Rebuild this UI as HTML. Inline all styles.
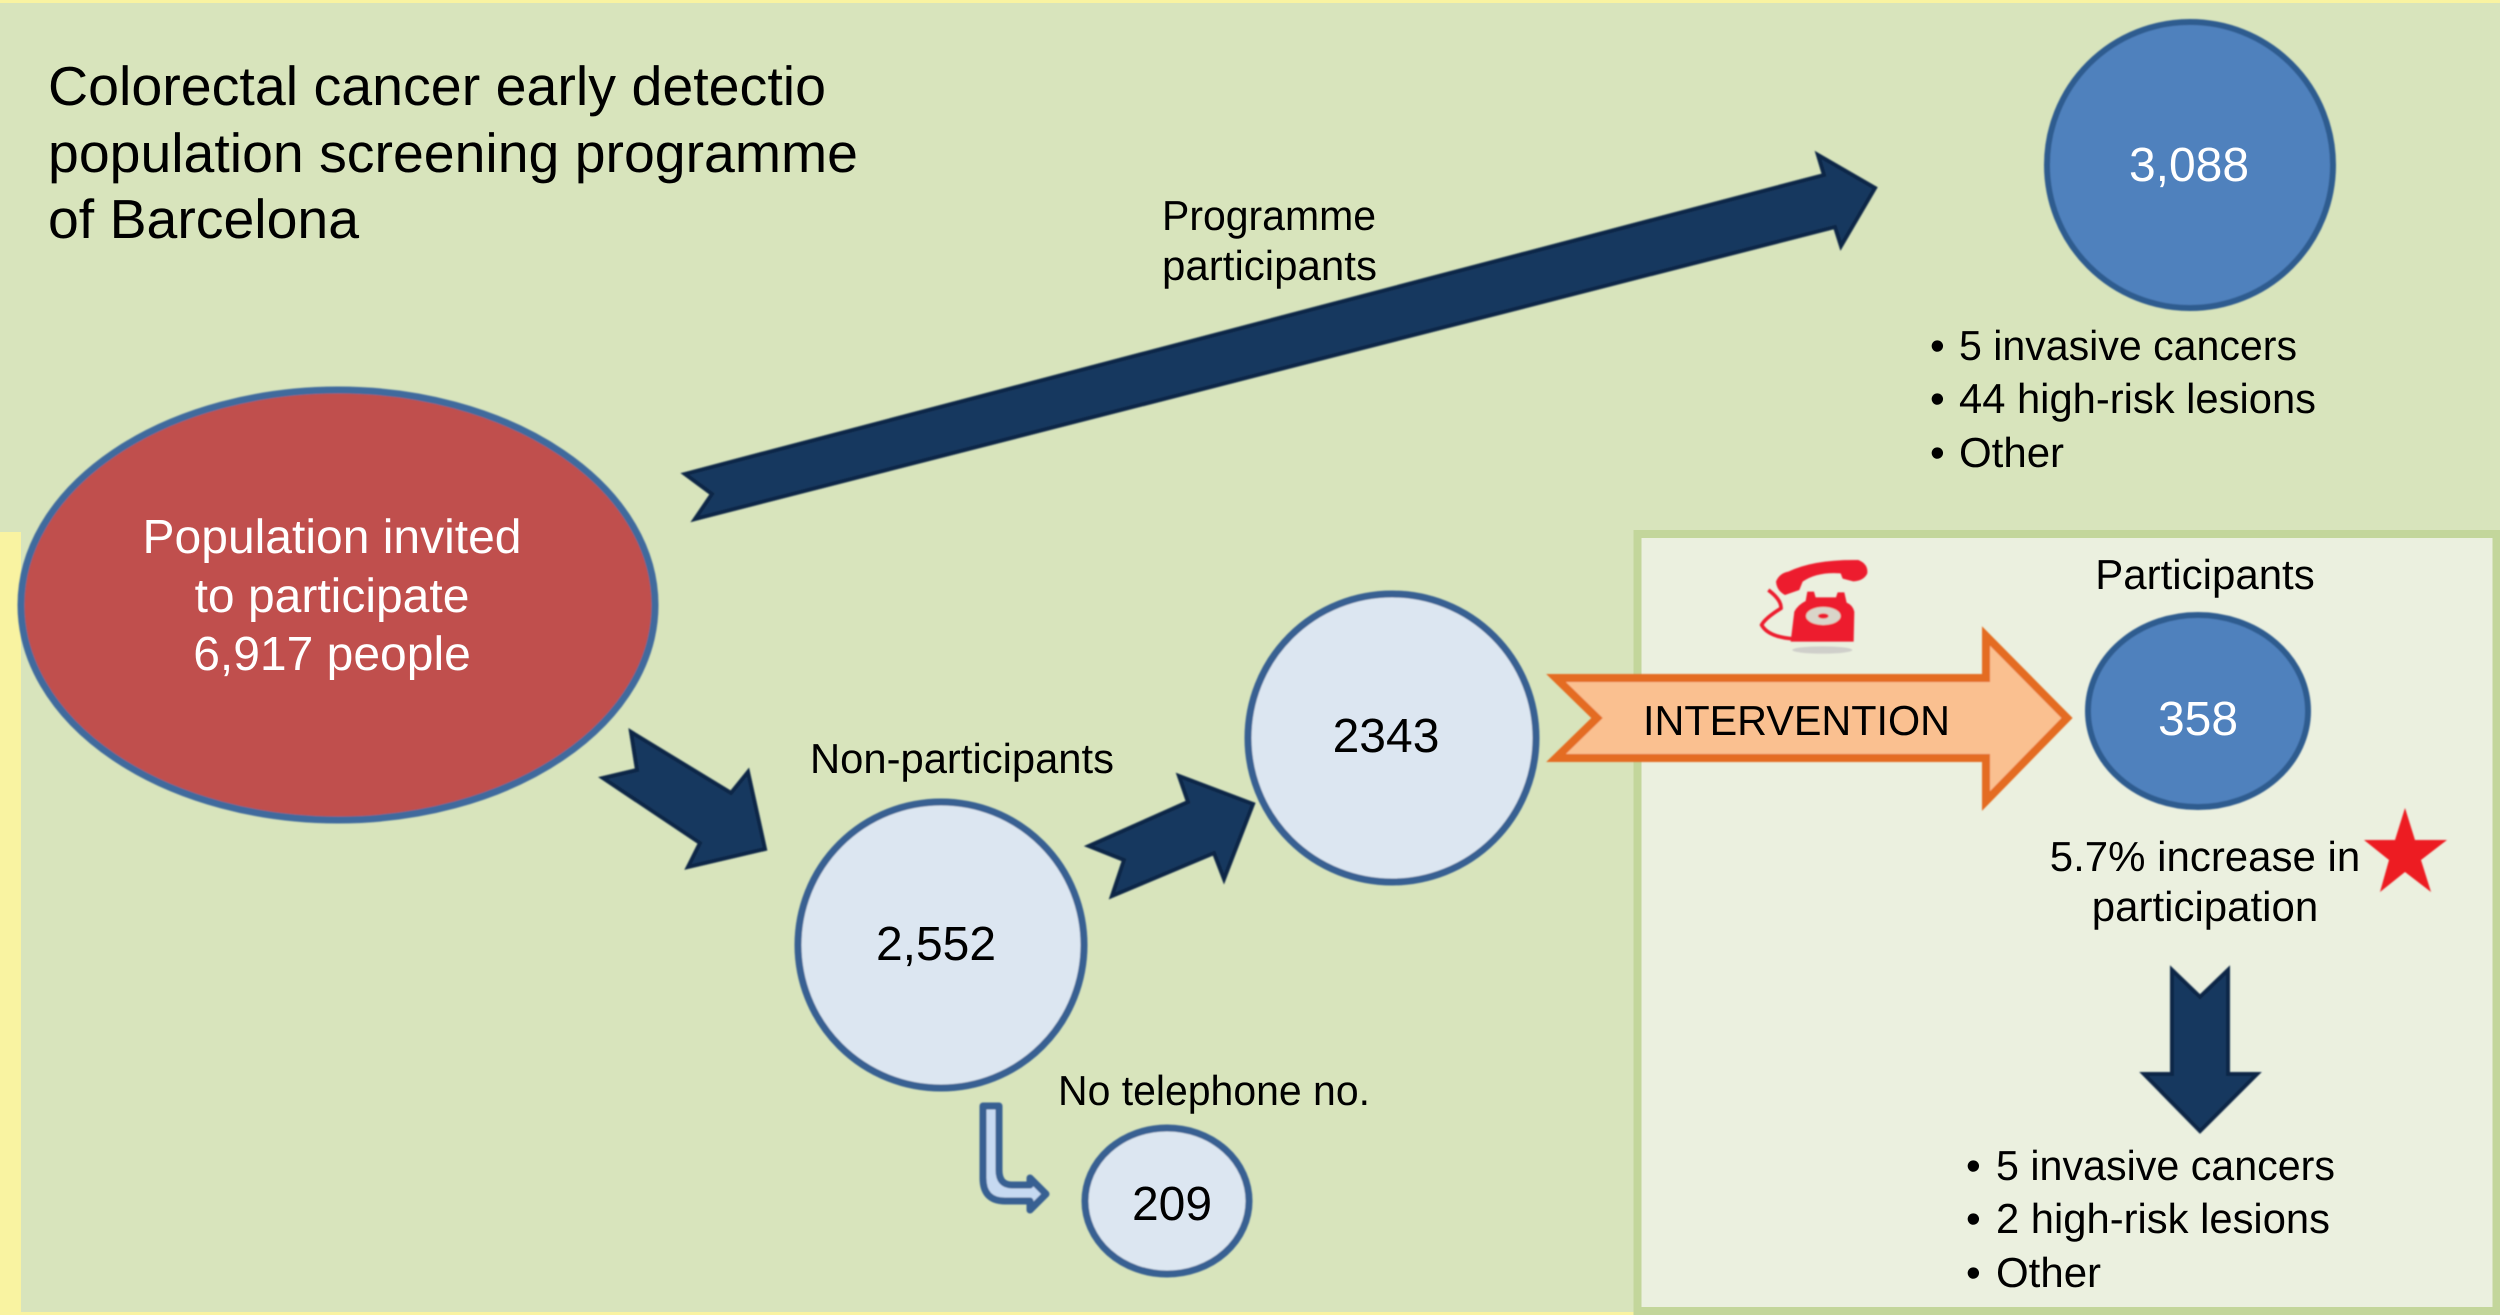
<!DOCTYPE html>
<html lang="en">
<head>
<meta charset="utf-8">
<title>Colorectal cancer early detection population screening programme of Barcelona</title>
<style>
html,body{margin:0;padding:0;background:#f9f3a1;width:2500px;height:1315px;overflow:hidden}
svg{display:block}
text{font-family:"Liberation Sans",Arial,sans-serif;fill:#000;text-rendering:geometricPrecision}
.m{text-anchor:middle}
.w{fill:#fff}
.dark{fill:#17375e;stroke:#0e2747;stroke-width:4;stroke-linejoin:miter}
.light{fill:#dce6f1;stroke:#376092;stroke-width:7}
.blue{fill:#4f81bd;stroke:#2f5c8f;stroke-width:6}
</style>
</head>
<body>
<svg width="2500" height="1315" viewBox="0 0 2500 1315" xmlns="http://www.w3.org/2000/svg">
<defs><filter id="s" x="-5%" y="-5%" width="110%" height="110%"><feGaussianBlur stdDeviation="0.8"/></filter></defs>

<!-- background -->
<rect width="2500" height="1315" fill="#f9f3a1"/>
<rect x="0" y="3" width="2500" height="529" fill="#d8e4bc"/>
<rect x="21" y="532" width="1620" height="780" fill="#d8e4bc"/>
<rect x="1637.5" y="534" width="859" height="777" fill="#ebf0df" stroke="#c3d69b" stroke-width="8"/>

<!-- nodes -->
<g filter="url(#s)">
<ellipse cx="338" cy="605" rx="317" ry="215" fill="#c0504d" stroke="#3f6b9d" stroke-width="7"/>
<circle cx="2190" cy="165" r="143" class="blue"/>
<circle cx="1392" cy="738" r="144" class="light"/>
<circle cx="941" cy="945" r="143" class="light"/>
<ellipse cx="1167" cy="1201" rx="82" ry="73" class="light"/>
<ellipse cx="2198" cy="711" rx="110" ry="96" class="blue"/>

<!-- dark arrows -->
<polygon class="dark" points="685,474 1824,175 1818,155 1875,188 1841,246 1835,227 695,519 712,494"/>
<polygon class="dark" points="631,732 731,793 748,772 765,849 688,867 700,843 603,778 637,770"/>
<polygon class="dark" points="1089,846 1188,802 1179,776 1253,804 1224,879 1214,853 1112,896 1124,860"/>
<polygon class="dark" points="2172,970 2200,997 2228,970 2228,1074 2257,1074 2200,1131 2144,1074 2172,1074"/>

<!-- L arrow -->
<path d="M983,1106 L999,1106 L999,1170 Q999,1185 1012,1185 L1030,1185 L1030,1178 L1046,1194 L1030,1210 L1030,1201 L1005,1201 Q983,1201 983,1178 Z" fill="#c6d9f1" stroke="#376092" stroke-width="7" stroke-linejoin="round"/>

<!-- intervention arrow -->
<polygon points="1556,678 1986,678 1986,636 2067,718 1986,801 1986,758 1556,758 1597,718" fill="#fac090" stroke="#e46c22" stroke-width="8" stroke-linejoin="miter"/>

<!-- star -->
<polygon fill="#ed1c24" points="2405,808 2415,840 2447,840 2421,860 2431,892 2405,872 2380,892 2389,860 2364,840 2395,840"/>

<!-- telephone -->
<g transform="translate(1700 540) scale(0.3333)" fill="#ed1c2e">
<ellipse cx="367" cy="330" rx="90" ry="11" fill="#cfcfca"/>
<path d="M228,125 Q238,100 265,95 Q340,58 475,60 Q505,72 502,100 Q492,122 460,124 L428,116 L422,100 Q350,95 308,125 L298,150 L255,165 Q230,152 228,125Z"/>
<path d="M205,150 Q245,180 243,205 Q195,235 185,255 Q205,292 285,297" fill="none" stroke="#ed1c2e" stroke-width="11"/>
<path d="M322,155 L342,155 L347,172 L408,172 L413,157 L433,157 L440,188 Q458,195 463,215 L461,305 L272,305 L283,215 Q293,195 317,183Z"/>
<ellipse cx="370" cy="228" rx="52" ry="27" fill="#d9d5c9"/>
<ellipse cx="370" cy="228" rx="16" ry="8"/>
</g>
</g>

<!-- title -->
<text x="48" y="105" font-size="55" textLength="778" lengthAdjust="spacingAndGlyphs">Colorectal cancer early detectio</text>
<text x="48" y="172" font-size="55" textLength="810" lengthAdjust="spacingAndGlyphs">population screening programme</text>
<text x="48" y="238" font-size="55" textLength="311" lengthAdjust="spacingAndGlyphs">of Barcelona</text>

<!-- labels -->
<text x="1162" y="230" font-size="42" textLength="214" lengthAdjust="spacingAndGlyphs">Programme</text>
<text x="1162" y="280" font-size="42" textLength="215" lengthAdjust="spacingAndGlyphs">participants</text>
<text x="2189" y="181" font-size="48" class="m w">3,088</text>

<text x="1930" y="360" font-size="42">•</text><text x="1959" y="360" font-size="42" textLength="338" lengthAdjust="spacingAndGlyphs">5 invasive cancers</text>
<text x="1930" y="413" font-size="42">•</text><text x="1959" y="413" font-size="42" textLength="357" lengthAdjust="spacingAndGlyphs">44 high-risk lesions</text>
<text x="1930" y="467" font-size="42">•</text><text x="1959" y="467" font-size="42">Other</text>

<text x="332" y="553" font-size="48" class="m w">Population invited</text>
<text x="332" y="612" font-size="48" class="m w">to participate</text>
<text x="332" y="670" font-size="48" class="m w">6,917 people</text>

<text x="810" y="773" font-size="42" textLength="304" lengthAdjust="spacingAndGlyphs">Non-participants</text>
<text x="936" y="960" font-size="48" class="m">2,552</text>
<text x="1386" y="752" font-size="48" class="m">2343</text>
<text x="1058" y="1105" font-size="42" textLength="312" lengthAdjust="spacingAndGlyphs">No telephone no.</text>
<text x="1172" y="1220" font-size="48" class="m">209</text>

<text x="1643" y="735" font-size="42" textLength="307" lengthAdjust="spacingAndGlyphs">INTERVENTION</text>
<text x="2205" y="589" font-size="42" class="m">Participants</text>
<text x="2198" y="735" font-size="48" class="m w">358</text>
<text x="2205" y="871" font-size="42" class="m">5.7% increase in</text>
<text x="2205" y="921" font-size="42" class="m">participation</text>

<text x="1966" y="1180" font-size="42">•</text><text x="1996" y="1180" font-size="42" textLength="339" lengthAdjust="spacingAndGlyphs">5 invasive cancers</text>
<text x="1966" y="1233" font-size="42">•</text><text x="1996" y="1233" font-size="42" textLength="334" lengthAdjust="spacingAndGlyphs">2 high-risk lesions</text>
<text x="1966" y="1287" font-size="42">•</text><text x="1996" y="1287" font-size="42">Other</text>
</svg>
</body>
</html>
